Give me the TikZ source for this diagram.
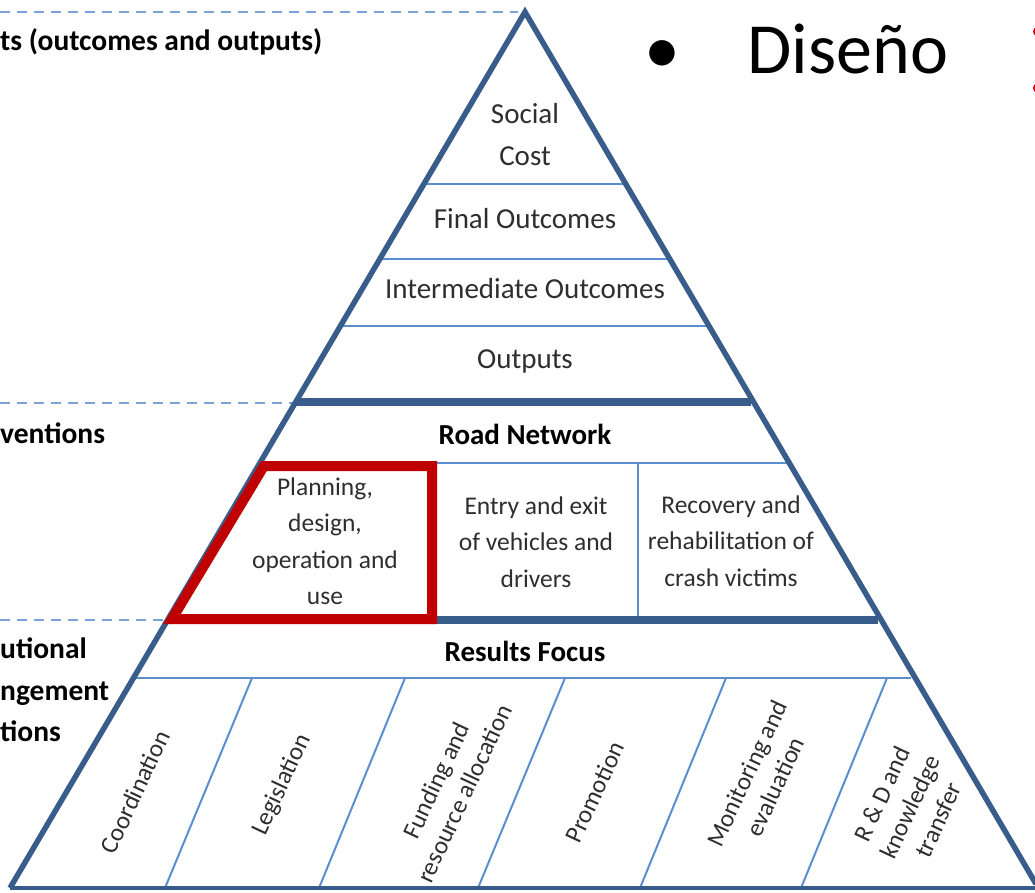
\documentclass[tikz,border=0pt]{standalone}
\usepackage{fontspec}
\setmainfont{Carlito}
\definecolor{edgeblue}{HTML}{385D8A}
\definecolor{thinblue}{HTML}{5B8ED0}
\definecolor{dashblue}{HTML}{7AA3D8}
\definecolor{boxred}{HTML}{C00000}
\definecolor{celltext}{HTML}{2E2E2E}
\tikzset{
  thinline/.style={draw=thinblue, line width=2pt},
  thickline/.style={draw=edgeblue, line width=8pt},
  outline/.style={draw=edgeblue, line width=5.5pt, line join=miter},
  dashline/.style={draw=dashblue, line width=2.2pt, dash pattern=on 10pt off 7pt},
  leveltxt/.style={font=\fontsize{29}{35}\selectfont, text=celltext, inner sep=0pt, anchor=base},
  boldtxt/.style={font=\bfseries\fontsize{29}{35}\selectfont, inner sep=0pt, anchor=base},
  celltxt/.style={font=\fontsize{25.5}{36.5}\selectfont, align=center, text=celltext, inner sep=0pt},
  rottxt/.style={font=\fontsize{25}{31}\selectfont, align=center, rotate=65, text=celltext, inner sep=0pt},
  sidetxt/.style={font=\bfseries\fontsize{29.5}{35}\selectfont, anchor=base west, inner sep=0pt},
}
\begin{document}
\begin{tikzpicture}[x=1pt,y=-1pt]
\useasboundingbox (0,0) rectangle (1035,892);
\clip (0,0) rectangle (1035,892);
% corner coordinates of the pyramid
\coordinate (apex) at (525,12);
\coordinate (bl) at (10,888);
\coordinate (br) at (1036,884);
% dashed guide lines
\coordinate (d1a) at (0,12);    \coordinate (d1b) at (518,12);
\coordinate (d2a) at (0,403);   \coordinate (d2b) at (293,403);
\coordinate (d3a) at (0,620);   \coordinate (d3b) at (166,620);
\draw[dashline] (d1a) -- (d1b);
\draw[dashline] (d2a) -- (d2b);
\draw[dashline] (d3a) -- (d3b);
% thin horizontal separators
\coordinate (h1l) at (423.9,184); \coordinate (h1r) at (624.8,184);
\coordinate (h2l) at (379.8,259); \coordinate (h2r) at (668.3,259);
\coordinate (h3l) at (340.4,326); \coordinate (h3r) at (707.1,326);
\coordinate (h5l) at (259.9,463); \coordinate (h5r) at (786.6,463);
\coordinate (h7l) at (133.5,678); \coordinate (h7r) at (911.3,678);
\draw[thinline] (h1l) -- (h1r);
\draw[thinline] (h2l) -- (h2r);
\draw[thinline] (h3l) -- (h3r);
\draw[thinline] (h5l) -- (h5r);
\draw[thinline] (h7l) -- (h7r);
% vertical dividers of the road network row
\coordinate (v1t) at (436,463); \coordinate (v1b) at (436,620);
\coordinate (v2t) at (638,463); \coordinate (v2b) at (638,620);
\draw[thinline] (v1t) -- (v1b);
\draw[thinline] (v2t) -- (v2b);
% slanted dividers of the bottom row
\coordinate (s1t) at (252,678); \coordinate (s1b) at (165,888);
\coordinate (s2t) at (405,678); \coordinate (s2b) at (319,888);
\coordinate (s3t) at (565,678); \coordinate (s3b) at (478,888);
\coordinate (s4t) at (726,678); \coordinate (s4b) at (640,888);
\coordinate (s5t) at (887,678); \coordinate (s5b) at (801,888);
\draw[thinline] (s1t) -- (s1b);
\draw[thinline] (s2t) -- (s2b);
\draw[thinline] (s3t) -- (s3b);
\draw[thinline] (s4t) -- (s4b);
\draw[thinline] (s5t) -- (s5b);
% thick horizontal separators
\coordinate (h4l) at (295.7,402); \coordinate (h4r) at (751.2,402);
\coordinate (h6l) at (167.6,620); \coordinate (h6r) at (877.6,620);
\draw[thickline] (h4l) -- (h4r);
\draw[thickline] (h6l) -- (h6r);
% outline
\draw[outline] (bl) -- (apex) -- (br);
\draw[draw=edgeblue, line width=4pt] (bl) -- (1040,888);
% red highlight box
\coordinate (r1) at (264,466);
\coordinate (r2) at (432,466);
\coordinate (r3) at (432,619);
\coordinate (r4) at (172,619);
\draw[draw=boxred, line width=10pt, line join=miter] (r1) -- (r2) -- (r3) -- (r4) -- cycle;
% level texts
\node[leveltxt] (social) at (525,123) {Social};
\node[leveltxt] (cost) at (525,165) {Cost};
\node[leveltxt] (final) at (525,228) {Final Outcomes};
\node[leveltxt] (inter) at (525,298) {Intermediate Outcomes};
\node[leveltxt] (outputs) at (525,368) {Outputs};
\node[boldtxt] (road) at (525,444) {Road Network};
\node[boldtxt] (results) at (525,661) {Results Focus};
% road network cells
\node[celltxt] (plan) at (325,541) {Planning,\\design,\\operation and\\use};
\node[celltxt] (entry) at (536,542) {Entry and exit\\of vehicles and\\drivers};
\node[celltxt] (recov) at (731,541) {Recovery and\\rehabilitation of\\crash victims};
% bottom row cells
\node[rottxt] (coord) at (135,792) {Coordination};
\node[rottxt] (legis) at (282,785) {Legislation};
\node[rottxt] (fund) at (450,787) {Funding and\\resource allocation};
\node[rottxt] (promo) at (595,792) {Promotion};
\node[rottxt] (monit) at (761,780) {Monitoring and\\evaluation};
\node[rottxt] (rnd) at (910,807) {R \& D and\\knowledge\\transfer};
% side labels (cut off at the left margin)
\node[sidetxt] (lab1) at (0,50) {ts (outcomes and outputs)};
\node[sidetxt] (lab2) at (0,443) {ventions};
\node[sidetxt] (lab3) at (0,658) {utional};
\node[sidetxt] (lab4) at (0,700) {ngement};
\node[sidetxt] (lab5) at (0,741) {tions};
% title bullet
\node[font=\fontsize{72}{80}\selectfont, anchor=base, inner sep=0pt] (bul) at (662,73) {•};
\node[font=\fontsize{72}{80}\selectfont, anchor=base, inner sep=0pt] (title) at (848,73) {Diseño};
\fill[boxred] (1038,31.5) circle (5);
\fill[boxred] (1038,88) circle (5);
\end{tikzpicture}
\end{document}
